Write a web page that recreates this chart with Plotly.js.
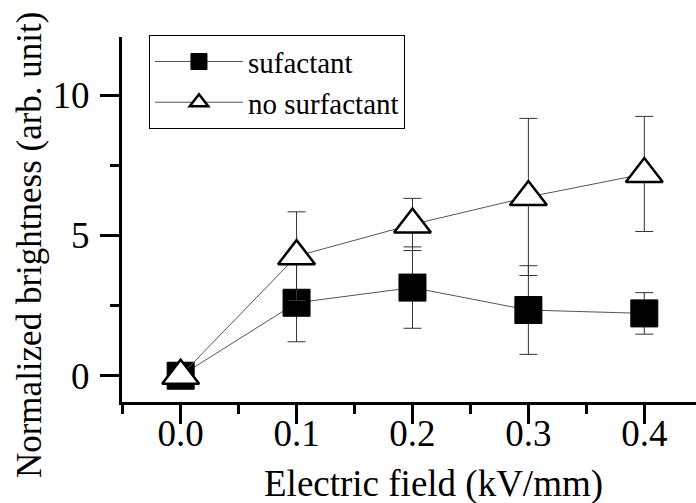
<!DOCTYPE html>
<html>
<head>
<meta charset="utf-8">
<script src="https://cdn.plot.ly/plotly-3.0.1.min.js"></script>
<style>html,body{margin:0;padding:0;background:#fff;}#chart{width:696px;height:503px;}</style>
</head>
<body>
<div id="chart"></div>
<script>
// Data
var fieldKV = [0.0, 0.1, 0.2, 0.3, 0.4];
var surfactantVals = [0.0, 2.60, 3.14, 2.34, 2.22];
var surfactantErr = [0.0, 1.39, 1.45, 1.58, 0.74];
var noSurfactantVals = [0.0, 4.26, 5.39, 6.37, 7.19];
var noSurfactantErr = [0.0, 1.58, 0.93, 2.80, 2.05];
var seriesNames = ['sufactant', 'no surfactant'];
var xTickVals = [0.0, 0.1, 0.2, 0.3, 0.4];
var xTickText = ['0.0', '0.1', '0.2', '0.3', '0.4'];
var yTickVals = [0, 5, 10];
var yTickText = ['0', '5', '10'];
var xTitle = 'Electric field (kV/mm)';
var yTitle = 'Normalized brightness (arb. unit)';

var FONT = 'Liberation Serif';

var traces = [
  {
    x: fieldKV, y: surfactantVals, name: seriesNames[0],
    type: 'scatter', mode: 'lines+markers',
    line: {color: '#555555', width: 1},
    marker: {symbol: 'square', size: 27, color: '#000000', line: {color: '#000000', width: 1}},
    error_y: {type: 'data', array: surfactantErr, visible: true, color: '#333333', thickness: 1, width: 9}
  },
  {
    x: fieldKV, y: noSurfactantVals, name: seriesNames[1],
    type: 'scatter', mode: 'lines+markers',
    line: {color: '#555555', width: 1},
    marker: {symbol: 'triangle-up', size: 32, color: '#ffffff', line: {color: '#000000', width: 2.5}},
    error_y: {type: 'data', array: noSurfactantErr, visible: true, color: '#333333', thickness: 1, width: 9}
  }
];

var layout = {
  width: 696, height: 503,
  margin: {l: 122, r: 0, t: 37, b: 101},
  paper_bgcolor: '#ffffff', plot_bgcolor: '#ffffff',
  font: {family: FONT, color: '#000000', size: 37},
  showlegend: true,
  legend: {
    x: 0.047, y: 1.005, xanchor: 'left', yanchor: 'top',
    bordercolor: '#000000', borderwidth: 1, bgcolor: '#ffffff',
    font: {family: FONT, size: 29, color: '#000000'},
    itemwidth: 88,
    tracegroupgap: 0
  },
  xaxis: {
    range: [-0.0506, 0.4446],
    tickvals: xTickVals, ticktext: xTickText,
    ticks: 'outside', ticklen: 19, tickwidth: 3, tickcolor: '#000000',
    ticklabelstandoff: -22,
    minor: {dtick: 0.05, ticks: 'outside', ticklen: 9, tickwidth: 3, tickcolor: '#000000'},
    showline: true, linecolor: '#000000', linewidth: 3,
    showgrid: false, zeroline: false,
    tickfont: {family: FONT, size: 37, color: '#000000'},
    title: {text: ''},
    automargin: false
  },
  yaxis: {
    range: [-0.937, 12.07],
    tickvals: yTickVals, ticktext: yTickText,
    ticks: 'outside', ticklen: 19, tickwidth: 3, tickcolor: '#000000',
    ticklabelstandoff: 3,
    minor: {dtick: 2.5, ticks: 'outside', ticklen: 9, tickwidth: 3, tickcolor: '#000000'},
    showline: true, linecolor: '#000000', linewidth: 3,
    showgrid: false, zeroline: false,
    tickfont: {family: FONT, size: 37, color: '#000000'},
    title: {text: ''},
    automargin: false
  },
  annotations: [
    {
      text: xTitle, xref: 'paper', yref: 'paper', x: 0.543, y: -0.2247,
      xanchor: 'center', yanchor: 'middle', showarrow: false,
      font: {family: FONT, size: 37, color: '#000000'}
    },
    {
      text: yTitle, xref: 'paper', yref: 'paper', x: -0.162, y: 0.43,
      xanchor: 'center', yanchor: 'middle', showarrow: false, textangle: -90,
      font: {family: FONT, size: 35, color: '#000000'}
    }
  ]
};

Plotly.newPlot('chart', traces, layout, {displayModeBar: false, staticPlot: true});
</script>
</body>
</html>
